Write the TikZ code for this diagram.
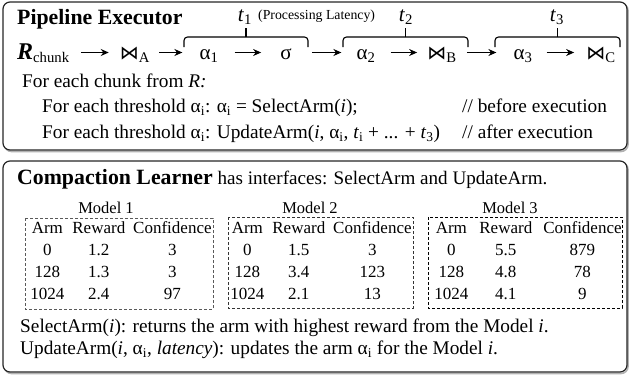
\documentclass[tikz,border=0pt]{standalone}
\usepackage{fontspec}
\setmainfont{Liberation Serif}
\newfontfamily\symfont{DejaVu Sans}
\usetikzlibrary{arrows.meta}
\newcommand\fs[1]{\fontsize{#1}{#1}\selectfont}
\newcommand\jn{{\symfont\fontsize{19}{19}\selectfont\char"22C8}}
\newcommand\lo[1]{\textsubscript{#1}}
\begin{document}
\begin{tikzpicture}[x=1pt,y=-1pt,
  box/.style={draw=black!85,line width=1.2pt,rounded corners=7pt},
  shadow/.style={draw=black!30,line width=1.6pt,rounded corners=7pt},
  txt/.style={anchor=base west,inner sep=0pt,font=\fs{19.3}},
  ttl/.style={font=\fontsize{21.8}{21.8}\selectfont\bfseries},
  sym/.style={anchor=base,inner sep=0pt,font=\fs{21},text height=16pt,text depth=3pt},
  arr/.style={-{Stealth[length=8pt,width=7pt]},line width=1.4pt},
  brk/.style={line width=1.1pt,rounded corners=3.5pt},
  tlab/.style={anchor=base,inner sep=0pt,font=\fs{21}},
  tbl/.style={anchor=base,inner sep=0pt,font=\fontsize{17}{22}\selectfont},
  tbox/.style={line width=0.8pt,dash pattern=on 3pt off 2pt},
  mlab/.style={anchor=base,inner sep=0pt,font=\fs{16.5}},
]
\useasboundingbox (0,0) rectangle (629,375);
% boxes
\draw[shadow] (4.5,3.5) rectangle (628,151.5);
\draw[shadow] (4.5,162.5) rectangle (628,373.5);
\draw[box,fill=white] (3,2) rectangle (627,150);
\draw[box,fill=white] (3,161) rectangle (627,372);

% ---------- Pipeline Executor ----------
\node[txt,ttl] (pe) at (17,24) {Pipeline Executor};

\node[sym,anchor=base west] (r) at (17,59) {{\fontsize{24}{24}\selectfont\bfseries\itshape R}\lo{chunk}};
\node[sym] (ja) at (135,59) {\jn\lo{A}};
\node[sym] (a1) at (209,59) {α\lo{1}};
\node[sym] (sg) at (286,59) {σ};
\node[sym] (a2) at (366,59) {α\lo{2}};
\node[sym] (jb) at (442,59) {\jn\lo{B}};
\node[sym] (a3) at (523,59) {α\lo{3}};
\node[sym] (jc) at (601,59) {\jn\lo{C}};

\draw[arr,shorten <=11pt,shorten >=11pt] (r) -- (ja);
\draw[arr,shorten <=9pt,shorten >=17pt] (ja) -- (a1);
\draw[arr,shorten <=16pt,shorten >=19pt] (a1) -- (sg);
\draw[arr,shorten <=20pt,shorten >=15pt] (sg) -- (a2);
\draw[arr,shorten <=15pt,shorten >=10pt] (a2) -- (jb);
\draw[arr,shorten <=10pt,shorten >=17pt] (jb) -- (a3);
\draw[arr,shorten <=14pt,shorten >=12pt] (a3) -- (jc);

% brackets
\coordinate (b1l) at (184,47); \coordinate (b1r) at (308,47); \coordinate (b1m) at (246,37); \coordinate (b1t) at (246,28);
\coordinate (b2l) at (343,47); \coordinate (b2r) at (468,47); \coordinate (b2m) at (405.5,37); \coordinate (b2t) at (405.5,28);
\coordinate (b3l) at (495,47); \coordinate (b3r) at (620,47); \coordinate (b3m) at (557.5,37); \coordinate (b3t) at (557.5,28);
\draw[brk] (b1l) -- (b1l |- b1m) -- (b1r |- b1m) -- (b1r);
\draw[brk] (b2l) -- (b2l |- b2m) -- (b2r |- b2m) -- (b2r);
\draw[brk] (b3l) -- (b3l |- b3m) -- (b3r |- b3m) -- (b3r);
\draw[line width=1.1pt] (b1m) -- (b1t);
\draw[line width=1.1pt] (b2m) -- (b2t);
\draw[line width=1.1pt] (b3m) -- (b3t);

\node[tlab] (t1) at (245,21) {\textit{t}\lo{1}};
\node[tlab] (t2) at (406,21) {\textit{t}\lo{2}};
\node[tlab] (t3) at (557,21) {\textit{t}\lo{3}};
\node[anchor=base west,inner sep=0pt,font=\fs{13.8}] (pl) at (258,19) {(Processing Latency)};

\node[txt] (l1) at (22,87) {For each chunk from \textit{R:}};
\node[txt] (l2) at (42,112) {For each threshold α\lo{i}: α\lo{i} = SelectArm(\textit{i});};
\node[txt] (l3) at (42,138) {For each threshold α\lo{i}: UpdateArm(\textit{i}, α\lo{i}, \textit{t}\lo{i} + ... + \textit{t}\lo{3})};
\node[txt] (c1) at (462,112) {// before execution};
\node[txt] (c2) at (462,138) {// after execution};

% ---------- Compaction Learner ----------
\node[txt,font=\fs{19.1}] (cl) at (17,184) {{\fontsize{21.8}{21.8}\selectfont\bfseries Compaction Learner} has interfaces: SelectArm and UpdateArm.};

\node[mlab] (m1) at (106,213) {Model 1};
\node[mlab] (m2) at (310,213) {Model 2};
\node[mlab] (m3) at (510,213) {Model 3};

\draw[tbox,draw=black!65] (25,218) rectangle (213,309);
\draw[tbox,draw=black!80] (228,217) rectangle (413,308);
\draw[tbox,draw=black] (428,217) rectangle (622,308);

\node[tbl] (tb1) at (121,233) {\begin{tabular}[t]{@{}c@{\hspace{8pt}}c@{\hspace{8pt}}c@{}}
Arm & Reward & Confidence\\
0 & 1.2 & 3\\
128 & 1.3 & 3\\
1024 & 2.4 & 97
\end{tabular}};
\node[tbl] (tb2) at (321,233) {\begin{tabular}[t]{@{}c@{\hspace{8pt}}c@{\hspace{8pt}}c@{}}
Arm & Reward & Confidence\\
0 & 1.5 & 3\\
128 & 3.4 & 123\\
1024 & 2.1 & 13
\end{tabular}};
\node[tbl] (tb3) at (528,233) {\begin{tabular}[t]{@{}c@{\hspace{11pt}}c@{\hspace{11pt}}c@{}}
Arm & Reward & Confidence\\
0 & 5.5 & 879\\
128 & 4.8 & 78\\
1024 & 4.1 & 9
\end{tabular}};

\node[txt] (s1) at (20,332) {SelectArm(\textit{i}): returns the arm with highest reward from the Model \textit{i}.};
\node[txt] (s2) at (20,354) {UpdateArm(\textit{i}, α\lo{i}, \textit{latency}): updates the arm α\lo{i} for the Model \textit{i}.};
\end{tikzpicture}
\end{document}
